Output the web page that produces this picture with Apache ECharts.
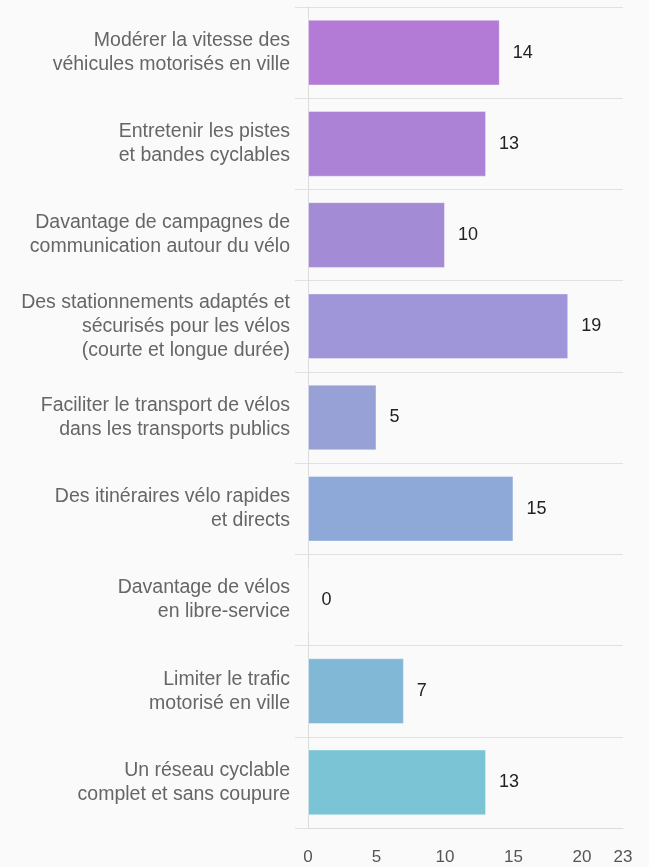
<!DOCTYPE html>
<html>
<head>
<meta charset="utf-8">
<script src="https://cdn.jsdelivr.net/npm/echarts@6/dist/echarts.min.js"></script>
<style>
  html, body { margin: 0; padding: 0; background: #fafafa; }
  #chart { width: 649px; height: 867px; }
</style>
</head>
<body>
<div id="chart"></div>
<script>
  // catégories (de haut en bas)
  var categories = [
    'Modérer la vitesse des\nvéhicules motorisés en ville',
    'Entretenir les pistes\net bandes cyclables',
    'Davantage de campagnes de\ncommunication autour du vélo',
    'Des stationnements adaptés et\nsécurisés pour les vélos\n(courte et longue durée)',
    'Faciliter le transport de vélos\ndans les transports publics',
    'Des itinéraires vélo rapides\net directs',
    'Davantage de vélos\nen libre-service',
    'Limiter le trafic\nmotorisé en ville',
    'Un réseau cyclable\ncomplet et sans coupure'
  ];
  var values = [14, 13, 10, 19, 5, 15, 0, 7, 13];
  var barColors = ['#b47bd6', '#ac82d6', '#a38bd6', '#9e96d8', '#97a1d6',
                   '#8ea9d8', '#87b0d6', '#80b8d6', '#7bc4d6'];

  var chart = echarts.init(document.getElementById('chart'));

  var option = {
    backgroundColor: '#fafafa',
    animation: false,
    grid: { left: 308, right: 26, top: 7, bottom: 39, containLabel: false },
    xAxis: {
      type: 'value',
      min: 0,
      max: 23,
      interval: 5,
      axisLine: { show: true, lineStyle: { color: '#dcdcdc' } },
      axisTick: { show: false },
      splitLine: { show: false },
      axisLabel: {
        color: '#555',
        fontSize: 17,
        fontFamily: 'Liberation Sans',
        margin: 21,
        showMaxLabel: true
      }
    },
    yAxis: {
      type: 'category',
      inverse: true,
      data: categories,
      axisLine: { show: true, lineStyle: { color: '#dcdcdc' } },
      axisTick: { show: true, length: 13, lineStyle: { color: '#e2e2e2' } },
      splitLine: { show: true, lineStyle: { color: '#e2e2e2' } },
      axisLabel: {
        color: '#666',
        fontSize: 19.5,
        lineHeight: 24,
        fontFamily: 'Liberation Sans',
        margin: 18,
        align: 'right'
      }
    },
    series: [{
      type: 'bar',
      barCategoryGap: '28%',
      data: values.map(function (v, i) {
        return {
          value: v,
          itemStyle: {
            color: barColors[i],
            borderColor: 'rgba(255,255,255,0.35)',
            borderWidth: 1
          }
        };
      }),
      label: {
        show: true,
        position: 'right',
        distance: 13,
        color: '#222',
        fontSize: 18,
        fontFamily: 'Liberation Sans'
      }
    }]
  };

  chart.setOption(option);
</script>
</body>
</html>
